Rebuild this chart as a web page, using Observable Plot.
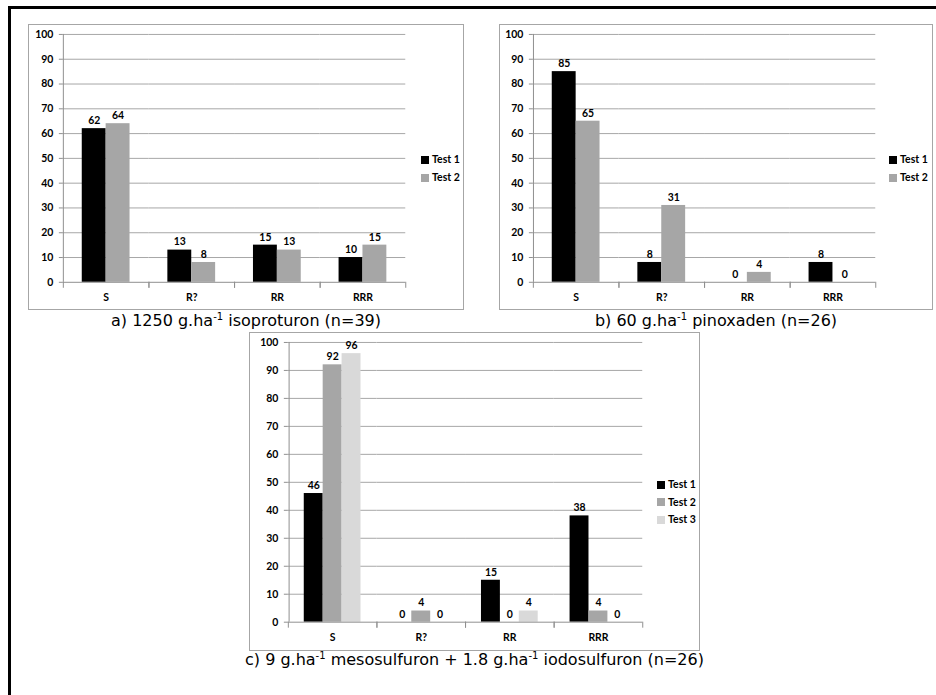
<!DOCTYPE html>
<html><head><meta charset="utf-8">
<script src="https://cdn.jsdelivr.net/npm/d3@7"></script>
<script src="https://cdn.jsdelivr.net/npm/@observablehq/plot@0.6"></script>
<style>
html,body{margin:0;padding:0;background:#fff}
body{width:936px;height:695px;overflow:hidden;position:relative;font-family:Lato,sans-serif}
#frame{position:absolute;left:8px;top:6px;width:1000px;height:800px;border-top:3px solid #000;border-left:3px solid #000}
.box{position:absolute;border:1px solid #a6a6a6;box-sizing:border-box;background:#fff}
.box svg{position:absolute;left:-1px;top:-1px}
.cap{position:absolute;font-family:"DejaVu Sans",sans-serif;font-size:16px;white-space:nowrap;transform:translateX(-50%);line-height:18px;color:#000}
.cap sup{font-size:10px;vertical-align:6px;line-height:0}
.leg{position:absolute;font:bold 10.5px Lato,sans-serif;color:#000}
.leg div{position:relative;white-space:nowrap}
.leg span{display:inline-block;width:8px;height:8px;margin-right:3px;vertical-align:-0.5px}
</style></head><body>
<div id="frame"></div>
<div id="root"></div>
<script>
// ---- data ----
const categories = ["S", "R?", "RR", "RRR"];
const testNames = ["Test 1", "Test 2", "Test 3"];
const seriesColors = ["#000000", "#a6a6a6", "#d9d9d9"];
const yTicks = [0, 10, 20, 30, 40, 50, 60, 70, 80, 90, 100];

const a_test1 = [62, 13, 15, 10];
const a_test2 = [64, 8, 13, 15];
const b_test1 = [85, 8, 0, 8];
const b_test2 = [65, 31, 4, 0];
const c_test1 = [46, 0, 15, 38];
const c_test2 = [92, 4, 0, 4];
const c_test3 = [96, 0, 4, 0];

const captionA = ["a) 1250 g.ha", "-1", " isoproturon (n=39)"];
const captionB = ["b) 60 g.ha", "-1", " pinoxaden (n=26)"];
const captionC = ["c) 9 g.ha", "-1", " mesosulfuron + 1.8 g.ha", "-1", " iodosulfuron (n=26)"];

function rowsOf(series) {
  return categories.flatMap((c, i) => series.map((s, j) => ({category: c, test: testNames[j], value: s[i]})));
}

const panels = [
  {series: [a_test1, a_test2], left: 28, top: 24, w: 436, h: 286, ml: 33, mr: 56, mt: 10, mb: 27, legX: 392, legY: 125, legGap: 18, cap: captionA, capY: 312},
  {series: [b_test1, b_test2], left: 499, top: 24, w: 434, h: 286, ml: 33, mr: 55, mt: 10, mb: 27, legX: 389, legY: 125, legGap: 18, cap: captionB, capY: 312},
  {series: [c_test1, c_test2, c_test3], left: 249, top: 332, w: 451, h: 319, ml: 39, mr: 56, mt: 10, mb: 28, legX: 407, legY: 143, legGap: 17.5, cap: captionC, capY: 651}
];

const root = document.getElementById("root");
const axisColor = "#8f8f8f";
const gridColor = "#a6a6a6";

for (const p of panels) {
  const tests = testNames.slice(0, p.series.length);
  const rows = rowsOf(p.series);
  const plotH = p.h - p.mt - p.mb;
  const bw = (p.w - p.ml - p.mr) / categories.length;
  const step = bw / (tests.length + 1.5);
  const box = document.createElement("div");
  box.className = "box";
  Object.assign(box.style, {left: p.left + "px", top: p.top + "px", width: p.w + "px", height: p.h + "px"});
  const chart = Plot.plot({
    width: p.w, height: p.h,
    marginLeft: p.ml, marginRight: p.mr, marginTop: p.mt, marginBottom: p.mb,
    style: {fontFamily: "Lato, sans-serif", fontWeight: "bold", fontSize: "10.5px", color: "#000", background: "transparent", overflow: "visible"},
    fx: {domain: categories, padding: 0, label: null, axis: null},
    x: {domain: tests, paddingInner: 0, paddingOuter: 0.75, axis: null},
    y: {domain: [0, 100], label: null, axis: null},
    color: {domain: tests, range: seriesColors.slice(0, tests.length)},
    marks: [
      Plot.ruleY(yTicks.filter(d => d > 0), {stroke: gridColor, strokeWidth: 1}),
      Plot.barY(rows, {fx: "category", x: "test", y: "value", fill: "test"}),
      Plot.text(rows, {fx: "category", x: "test", y: "value", text: d => String(d.value), dy: -8, fill: "#000"}),
      Plot.ruleY([0], {stroke: axisColor}),
      // category boundary ticks below the baseline
      Plot.frame({anchor: "left", stroke: axisColor, insetTop: plotH, insetBottom: -5}),
      Plot.frame({anchor: "right", stroke: axisColor, insetTop: plotH, insetBottom: -5}),
      // value axis line (left edge of first category)
      Plot.ruleX([{category: categories[0], test: tests[0]}], {fx: "category", x: "test", y1: 0, y2: 100, dx: -1.25 * step, stroke: axisColor}),
      Plot.axisY({ticks: yTicks, tickSize: 4, tickPadding: 6, stroke: axisColor, label: null, fill: "#000"}),
      Plot.axisFx({anchor: "bottom", tickSize: 0, tickPadding: 11, label: null, fill: "#000"})
    ]
  });
  box.appendChild(chart);
  // legend
  const leg = document.createElement("div");
  leg.className = "leg";
  Object.assign(leg.style, {left: p.legX + "px", top: p.legY + "px"});
  tests.forEach((t, j) => {
    const row = document.createElement("div");
    row.style.height = p.legGap + "px";
    row.style.lineHeight = p.legGap + "px";
    const sw = document.createElement("span");
    sw.style.background = seriesColors[j];
    row.appendChild(sw);
    row.appendChild(document.createTextNode(t));
    leg.appendChild(row);
  });
  box.appendChild(leg);
  root.appendChild(box);
  // caption
  const cap = document.createElement("div");
  cap.className = "cap";
  Object.assign(cap.style, {left: (p.left + p.w / 2) + "px", top: p.capY + "px"});
  p.cap.forEach((part, k) => {
    if (k % 2 === 1) { const s = document.createElement("sup"); s.textContent = part; cap.appendChild(s); }
    else cap.appendChild(document.createTextNode(part));
  });
  root.appendChild(cap);
}
</script>
</body></html>
